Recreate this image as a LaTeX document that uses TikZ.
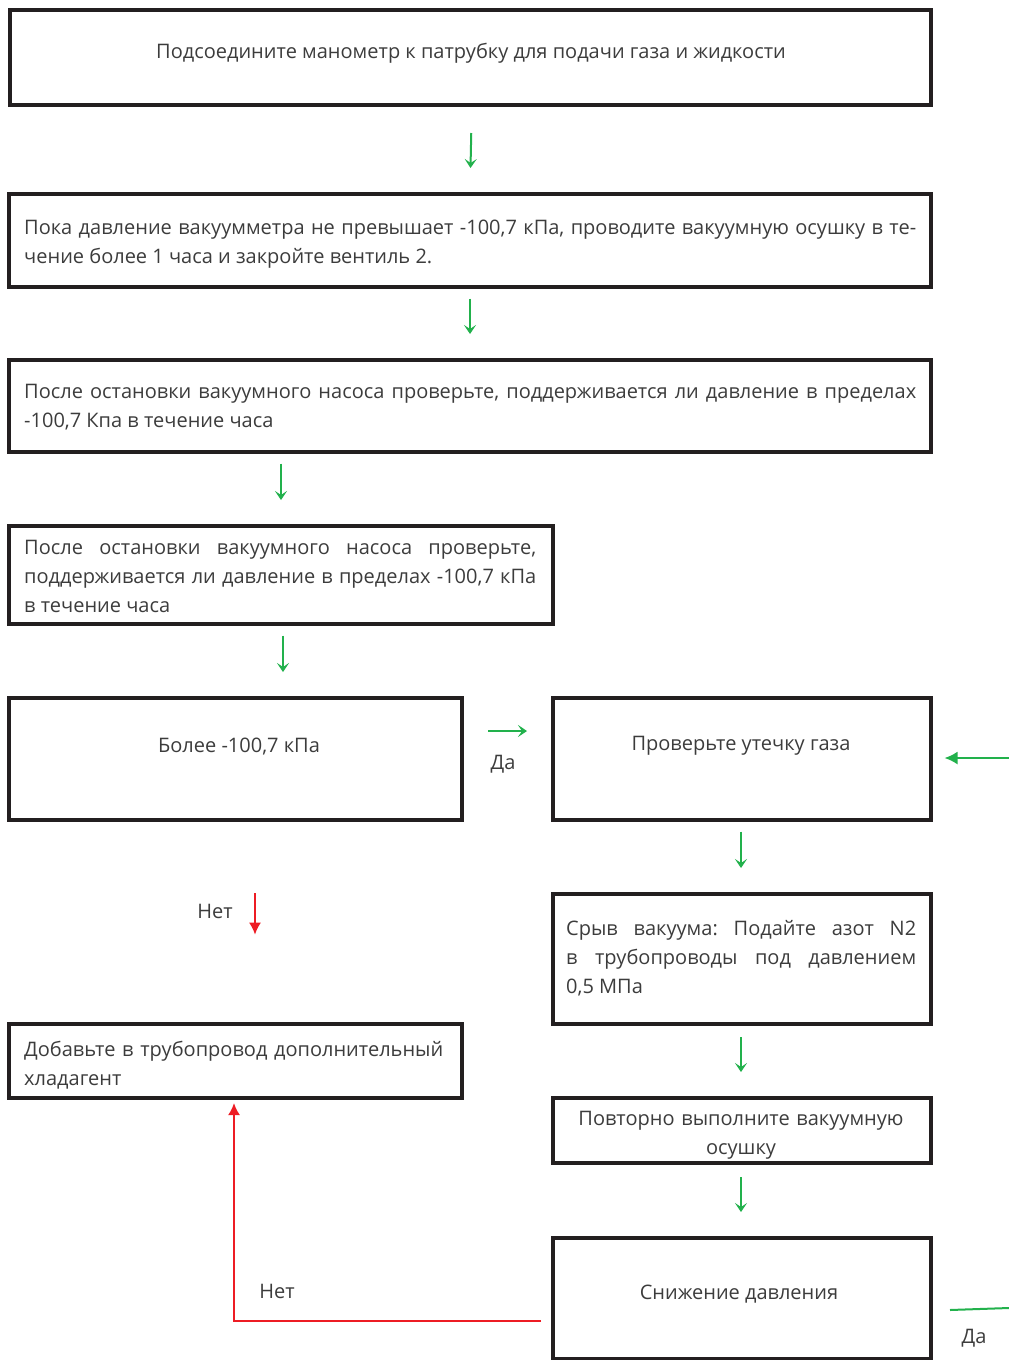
\documentclass[tikz,border=0pt]{standalone}
\usepackage{fontspec}
\setmainfont{Open Sans}
\frenchspacing
\usetikzlibrary{arrows.meta,calc}
\definecolor{frame}{HTML}{231F20}
\definecolor{txt}{HTML}{3C3C3C}
\definecolor{grn}{HTML}{22B14C}
\definecolor{rd}{HTML}{ED1C24}
\tikzset{
  boxnode/.style={draw=frame,line width=4pt,inner sep=0pt,outer sep=0pt},
  lbl/.style={text=txt,inner sep=0pt,font=\fontsize{20}{29}\selectfont},
  para/.style={lbl,anchor=north west,text width=#1,align=justify},
  garrow/.style={draw=grn,line width=2pt,-{Stealth[length=9pt,width=12pt,inset=4pt]}},
  garrowbig/.style={draw=grn,line width=2pt,-{Latex[length=13pt,width=13pt]}},
  rarrow/.style={draw=rd,line width=2pt,-{Latex[length=12pt,width=12pt]}},
}
\begin{document}
\begin{tikzpicture}[x=1pt,y=-1pt]
\useasboundingbox (0,0) rectangle (1009,1360);
% boxes
\node[boxnode,minimum width=920.5pt,minimum height=95.3pt] (b1) at (470.25,57.35) {};
\node[boxnode,minimum width=922pt,minimum height=92.5pt] (b2) at (469.5,240.25) {};
\node[boxnode,minimum width=922pt,minimum height=91.7pt] (b3) at (469.5,405.85) {};
\node[boxnode,minimum width=544pt,minimum height=97.5pt] (b4) at (280.5,574.75) {};
\node[boxnode,minimum width=453.5pt,minimum height=121.5pt] (b5) at (235.25,758.75) {};
\node[boxnode,minimum width=377.5pt,minimum height=121.5pt] (b6) at (741.75,758.75) {};
\node[boxnode,minimum width=377.5pt,minimum height=129.5pt] (b7) at (741.75,958.75) {};
\node[boxnode,minimum width=453.5pt,minimum height=74.3pt] (b8) at (235.25,1060.85) {};
\node[boxnode,minimum width=377.5pt,minimum height=65pt] (b9) at (741.75,1130.5) {};
\node[boxnode,minimum width=377.5pt,minimum height=120.5pt] (b10) at (741.75,1298.25) {};
% texts
\node[lbl,anchor=base] (t1) at (471,58) {Подсоедините манометр к патрубку для подачи газа и жидкости};
\node[para=892pt] (t2) at (24,213.7) {\strut Пока давление вакуумметра не превышает -100,7 кПа, проводите вакуумную осушку в те-\linebreak чение более 1 часа и закройте вентиль 2.};
\node[para=892pt] (t3) at (24,377.7) {\strut После остановки вакуумного насоса проверьте, поддерживается ли давление в пределах\linebreak -100,7 Кпа в течение часа};
\node[para=512pt] (t4) at (24,533.7) {\strut После остановки вакуумного насоса проверьте,\linebreak поддерживается ли давление в пределах -100,7 кПа\linebreak в течение часа};
\node[lbl,anchor=base] (t5) at (239,752) {Более -100,7 кПа};
\node[lbl,anchor=base] (t6) at (741,750) {Проверьте утечку газа};
\node[para=350pt] (t7) at (566,914.7) {\strut Срыв вакуума: Подайте азот N2\linebreak в трубопроводы под давлением\linebreak 0,5 МПа};
\node[lbl,anchor=north west,text width=430pt,align=left] (t8) at (24,1035.7) {\strut Добавьте в трубопровод дополнительный\\ хладагент};
\node[lbl,anchor=north,text width=360pt,align=center] (t9) at (741,1104.7) {\strut Повторно выполните вакуумную\\ осушку};
\node[lbl,anchor=base] (t10) at (739,1299) {Снижение давления};
% labels
\node[lbl,anchor=base] (l1) at (503,769) {Да};
\node[lbl,anchor=base] (l2) at (215,918) {Нет};
\node[lbl,anchor=base] (l3) at (277,1298) {Нет};
\node[lbl,anchor=base] (l4) at (974,1343) {Да};
% connectors
\coordinate (e1) at (1009,758);
\coordinate (e2) at (1009,1308);
\draw[garrow] ($(b1.south)+(1,28)$) -- ($(b2.north)+(1,-26)$);
\draw[garrow] ($(b2.south)+(0.5,12)$) -- ($(b3.north)+(0.5,-26)$);
\draw[garrow] ($(b3.south west)+(272.5,12)$) -- ($(b4.north west)+(272.5,-26)$);
\draw[garrow] ($(b4.south)+(2.5,12)$) -- ($(b5.north west)+(274.5,-26)$);
\draw[garrow] ($(b5.north east)+(26,33)$) -- ($(b6.north west)+(-26,33)$);
\draw[garrowbig] (e1) -- ($(b6.east)+(14,-0.75)$);
\draw[garrow] ($(b6.south)+(-0.75,12)$) -- ($(b7.north)+(-0.75,-26)$);
\draw[garrow] ($(b7.south)+(-0.75,13.5)$) -- ($(b9.north)+(-0.75,-26)$);
\draw[garrow] ($(b9.south)+(-0.75,14)$) -- ($(b10.north)+(-0.75,-26)$);
\draw[rarrow] ($(b5.south west)+(246.5,73.5)$) -- ($(b8.north west)+(246.5,-89)$);
\draw[rarrow] ($(b10.west)+(-12,22.75)$) -| ($(b8.south west)+(225.5,5)$);
\draw[draw=grn,line width=2pt] ($(b10.east)+(19.5,11.75)$) -- (e2);
\end{tikzpicture}
\end{document}
